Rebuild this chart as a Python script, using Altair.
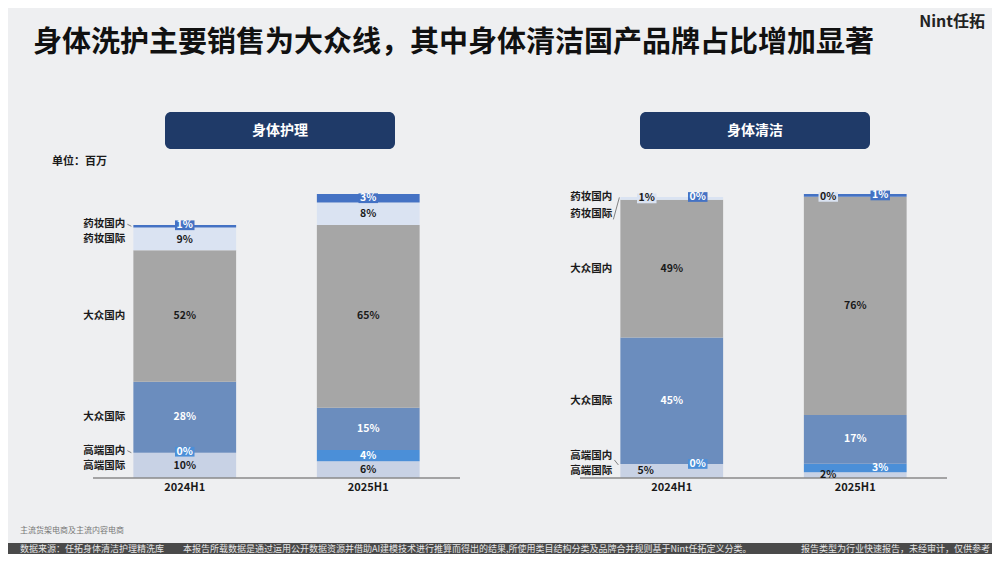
import altair as alt
import pandas as pd

# ---------------- data ----------------
segments = ["高端国际", "高端国内", "大众国际", "大众国内", "药妆国际", "药妆国内"]   # bottom -> top
periods = ["2024H1", "2025H1"]

care_share_2024 = [10, 0, 28, 52, 9, 1]
care_share_2025 = [6, 4, 15, 65, 8, 3]
care_totals = [1265, 1420]        # 百万

clean_share_2024 = [5, 0, 45, 49, 1, 0]
clean_share_2025 = [2, 3, 17, 76, 0, 1]
clean_totals = [2810, 2840]       # 百万

panel_names = ["身体护理", "身体清洁"]

title_text = "身体洗护主要销售为大众线，其中身体清洁国产品牌占比增加显著"
unit_text = "单位：百万"
logo_text = "Nint任拓"
note_text = "主流货架电商及主流内容电商"
footer_left = "数据来源：任拓身体清洁护理精洗库"
footer_mid = "本报告所载数据是通过运用公开数据资源并借助AI建模技术进行推算而得出的结果,所使用类目结构分类及品牌合并规则基于Nint任拓定义分类。"
footer_right = "报告类型为行业快速报告，未经审计，仅供参考"

# ---------------- styles ----------------
FONT = "Noto Sans CJK SC"
seg_colors = ["#C8D2E5", "#4B8FD8", "#6B8DBE", "#A6A6A6", "#DAE3F2", "#4472C4"]
seg_text_colors = ["#1a1a1a", "#ffffff", "#ffffff", "#1a1a1a", "#1a1a1a", "#ffffff"]
NAVY = "#1F3A68"
BOX_SHAPE = "M-1,-0.5L1,-0.5L1,0.5L-1,0.5Z"

panel_cfgs = [
    dict(name=panel_names[0], shares=[care_share_2024, care_share_2025], totals=care_totals,
         ymax=2350, xrange=[85, 452], header=(157, 387),
         side={},
         boxed={("2024H1", "药妆国内"), ("2024H1", "高端国内"), ("2025H1", "药妆国内")},
         shift={"药妆国内": -2, "高端国内": -2, "高端国际": 1},
         vshift={("2024H1", "药妆国内"): -1, ("2024H1", "药妆国际"): 1,
                 ("2024H1", "高端国内"): -1, ("2024H1", "高端国际"): 1},
         leaders={"药妆国内": (-6, -2, -2, 0), "高端国内": (-6, -2, -2, 0)}),
    dict(name=panel_names[1], shares=[clean_share_2024, clean_share_2025], totals=clean_totals,
         ymax=4700, xrange=[572, 939], header=(632, 862),
         side={("2024H1", "药妆国际"): -25, ("2024H1", "药妆国内"): 26,
               ("2024H1", "高端国内"): 26, ("2024H1", "高端国际"): -26,
               ("2025H1", "药妆国际"): -27, ("2025H1", "药妆国内"): 25,
               ("2025H1", "高端国内"): 25, ("2025H1", "高端国际"): -27},
         boxed={("2024H1", "药妆国际"), ("2024H1", "药妆国内"), ("2024H1", "高端国内"),
                ("2025H1", "药妆国际"), ("2025H1", "药妆国内")},
         shift={"药妆国际": 16, "高端国内": -8},
         vshift={},
         leaders={"药妆国际": (-7, 21, -1, -1), "高端国内": (-6, -4, -2, 1)}),
]


def build_panel(cfg):
    rows = []
    for p, shares, tot in zip(periods, cfg["shares"], cfg["totals"]):
        s = sum(shares)
        base = 0.0
        for seg, sh, tc in zip(segments, shares, seg_text_colors):
            v = tot * sh / s
            rows.append(dict(period=p, segment=seg, share=sh, y0=base, y1=base + v,
                             mid=base + v / 2, label=f"{sh}%", tcolor=tc,
                             dx=cfg["side"].get((p, seg), 0),
                             dy=cfg["vshift"].get((p, seg), 0),
                             boxed=(p, seg) in cfg["boxed"]))
            base += v
    df = pd.DataFrame(rows)

    xs = alt.Scale(domain=periods, range=cfg["xrange"], paddingInner=0.44, paddingOuter=0.22)
    ys = alt.Scale(domain=[0, cfg["ymax"]], range=[470, 0])

    def X(**kw):
        return alt.X("period:N", scale=xs, axis=None, **kw)

    def Y(f):
        return alt.Y(f, scale=ys, axis=None)

    seg_color = alt.Color("segment:N", scale=alt.Scale(domain=segments, range=seg_colors), legend=None)

    layers = []
    # header
    h0, h1 = cfg["header"]
    hdf = pd.DataFrame({"panel": [cfg["name"]]})
    layers.append(alt.Chart(hdf).mark_rect(cornerRadius=6, color=NAVY).encode(
        x=alt.value(h0), x2=alt.value(h1), y=alt.value(104), y2=alt.value(141)))
    layers.append(alt.Chart(hdf).mark_text(font=FONT, fontSize=14, fontWeight="bold", color="white",
                                           baseline="middle").encode(
        x=alt.value((h0 + h1) / 2), y=alt.value(122.5), text="panel:N"))

    # bars
    layers.append(alt.Chart(df).mark_bar().encode(
        x=X(), y=Y("y1:Q"), y2="y0:Q", color=seg_color))

    # axis line
    layers.append(alt.Chart(pd.DataFrame({"a": [0]})).mark_rule(color="#8a8a8a", strokeWidth=1.5).encode(
        x=alt.value(cfg["xrange"][0]), x2=alt.value(cfg["xrange"][1]),
        y=alt.YDatum(0, scale=ys, axis=None)))

    groups = sorted(set(zip(df["dx"], df["dy"])))
    # label boxes
    for d, v in groups:
        sub = df[(df["dx"] == d) & (df["dy"] == v) & (df["boxed"])]
        if len(sub):
            layers.append(alt.Chart(sub).mark_point(shape=BOX_SHAPE, filled=True, size=380, opacity=1,
                                                    strokeWidth=0, xOffset=int(d), yOffset=int(v)).encode(
                x=X(), y=Y("mid:Q"), color=seg_color))

    # value labels
    for d, v in groups:
        sub = df[(df["dx"] == d) & (df["dy"] == v)]
        layers.append(alt.Chart(sub).mark_text(font=FONT, fontSize=10.5, fontWeight="bold",
                                               baseline="middle", dx=int(d), dy=int(v)).encode(
            x=X(), y=Y("mid:Q"), text="label:N",
            color=alt.Color("tcolor:N", scale=None, legend=None)))

    # row labels (at the first bar)
    first = df[df["period"] == periods[0]]
    for seg in segments:
        sub = first[first["segment"] == seg]
        layers.append(alt.Chart(sub).mark_text(font=FONT, fontSize=10.5, fontWeight="bold", color="#1a1a1a",
                                               align="right", baseline="middle", dx=-8,
                                               dy=cfg["shift"].get(seg, 0)).encode(
            x=X(bandPosition=0), y=Y("mid:Q"), text="segment:N"))
    for seg, (x0, y0, x1, y1) in cfg["leaders"].items():
        sub = first[first["segment"] == seg]
        layers.append(alt.Chart(sub).mark_rule(color="#666666", strokeWidth=0.8,
                                               xOffset=x0, yOffset=y0, x2Offset=x1, y2Offset=y1).encode(
            x=X(bandPosition=0), x2=alt.X2("period:N", bandPosition=0),
            y=Y("mid:Q"), y2=alt.Y2("mid:Q")))

    # period labels
    layers.append(alt.Chart(pd.DataFrame({"period": periods})).mark_text(
        font=FONT, fontSize=11, fontWeight="bold", color="#1a1a1a", baseline="middle", dy=10).encode(
        x=X(), y=alt.YDatum(0, scale=ys, axis=None), text="period:N"))

    return alt.layer(*layers).resolve_scale(color="independent")


def deco_text(txt, x, y, size, color, weight="normal", align="left"):
    return alt.Chart(pd.DataFrame({"t": [txt]})).mark_text(
        font=FONT, fontSize=size, fontWeight=weight, color=color, align=align, baseline="middle").encode(
        x=alt.value(x), y=alt.value(y), text="t:N")


deco = [
    deco_text(title_text, 25, 35, 29, "#111111", "bold"),
    deco_text(logo_text, 977, 14, 16, "#222222", "bold", "right"),
    deco_text(unit_text, 44, 154, 11, "#1a1a1a", "bold"),
    deco_text(note_text, 12, 523, 8, "#777777"),
    alt.Chart(pd.DataFrame({"a": [0]})).mark_rect(color="#4a4a4a").encode(
        x=alt.value(0), x2=alt.value(984), y=alt.value(535), y2=alt.value(546)),
    deco_text(footer_left, 12, 541, 9, "#e6e6e6"),
    deco_text(footer_mid, 175, 541, 9, "#e6e6e6"),
    deco_text(footer_right, 982, 541, 9, "#e6e6e6", align="right"),
]

chart = alt.layer(
    build_panel(panel_cfgs[0]), build_panel(panel_cfgs[1]), *deco
).resolve_scale(x="independent", y="independent", color="independent").properties(
    width=984, height=546, autosize=alt.AutoSizeParams(type="none"), padding=0,
    background="#eeeff1"
).configure_view(stroke=None)

chart.save("out.html", embed_options={"renderer": "svg", "actions": False})
